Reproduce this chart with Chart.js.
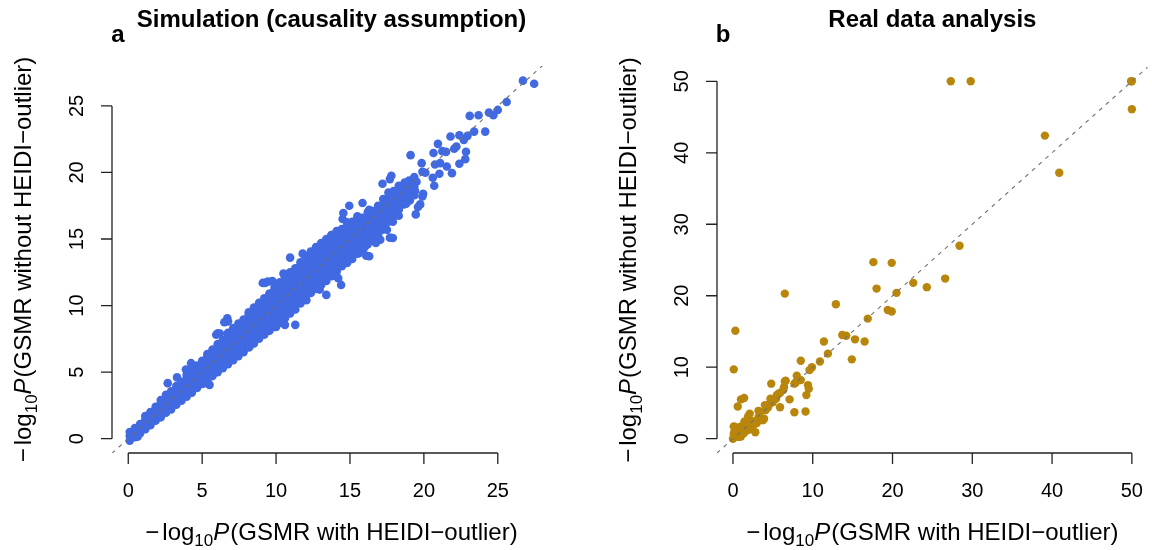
<!DOCTYPE html>
<html lang="en">
<head>
<meta charset="UTF-8">
<title>GSMR with and without HEIDI-outlier</title>
<style>
  body { margin: 0; background: #fff; }
  canvas { position: absolute; top: 0; }
  #simChart { left: 0; }
  #realChart { left: 576px; }
</style>
</head>
<body>
<canvas id="simChart" width="576" height="550"></canvas>
<canvas id="realChart" width="576" height="550"></canvas>
<script src="https://cdn.jsdelivr.net/npm/chart.js"></script>
<script>
const FONT = '"Liberation Sans", Arial, Helvetica, sans-serif';

// ---- panel a : simulation ----
const simTicks = [0, 5, 10, 15, 20, 25];
const simXRange = [-1.1, 28.6];
const simYRange = [-1.08, 28.0];

// dense band along the diagonal, read column by column: [x, [y values]]
const simCore = [
  [0.1,[-0.15,0.2,0.5]],
  [0.45,[0.1,0.45,0.8]],
  [0.8,[0.4,0.75,1.1]],
  [1.15,[0.7,1.05,1.4,1.7]],
  [1.5,[1.0,1.35,1.7,2.0]],
  [1.85,[1.35,1.7,2.05,2.4]],
  [2.2,[1.6,1.95,2.3,2.65,2.9]],
  [2.55,[1.95,2.3,2.65,3.0,3.3]],
  [2.9,[2.2,2.55,2.9,3.25,3.55]],
  [3.25,[2.55,2.9,3.25,3.6,3.95]],
  [3.6,[2.85,3.2,3.55,3.9,4.25]],
  [3.95,[3.15,3.5,3.85,4.2,4.55,4.8]],
  [4.3,[3.45,3.8,4.15,4.5,4.85,5.15]],
  [4.65,[3.8,4.15,4.5,4.85,5.2,5.5]],
  [5.0,[4.1,4.45,4.8,5.15,5.5,5.85]],
  [5.35,[4.4,4.75,5.1,5.45,5.8,6.15,6.35]],
  [5.7,[4.7,5.05,5.4,5.75,6.1,6.45,6.7]],
  [6.05,[5.0,5.35,5.7,6.05,6.4,6.75,7.1]],
  [6.4,[5.3,5.65,6.0,6.35,6.7,7.05,7.4]],
  [6.75,[5.6,5.95,6.3,6.65,7.0,7.35,7.7,7.95]],
  [7.1,[5.9,6.25,6.6,6.95,7.3,7.65,8.0,8.3]],
  [7.45,[6.2,6.55,6.9,7.25,7.6,7.95,8.3,8.65]],
  [7.8,[6.5,6.85,7.2,7.55,7.9,8.25,8.6,8.95]],
  [8.15,[6.85,7.2,7.55,7.9,8.25,8.6,8.95,9.3,9.5]],
  [8.5,[7.15,7.5,7.85,8.2,8.55,8.9,9.25,9.6,9.85]],
  [8.85,[7.5,7.85,8.2,8.55,8.9,9.25,9.6,9.95,10.2]],
  [9.2,[7.8,8.15,8.5,8.85,9.2,9.55,9.9,10.25,10.55]],
  [9.55,[8.1,8.45,8.8,9.15,9.5,9.85,10.2,10.55,10.9]],
  [9.9,[8.4,8.75,9.1,9.45,9.8,10.15,10.5,10.85,11.2,11.4]],
  [10.25,[8.7,9.05,9.4,9.75,10.1,10.45,10.8,11.15,11.5,11.75]],
  [10.6,[9.05,9.4,9.75,10.1,10.45,10.8,11.15,11.5,11.85,12.1]],
  [10.95,[9.4,9.75,10.1,10.45,10.8,11.15,11.5,11.85,12.2,12.5]],
  [11.3,[9.7,10.05,10.4,10.75,11.1,11.45,11.8,12.15,12.5,12.8]],
  [11.65,[10.15,10.5,10.85,11.2,11.55,11.9,12.25,12.6,12.95,13.25]],
  [12.0,[10.6,10.95,11.3,11.65,12.0,12.35,12.7,13.05,13.4,13.7]],
  [12.35,[10.95,11.3,11.65,12.0,12.35,12.7,13.05,13.4,13.75,14.05]],
  [12.7,[11.25,11.6,11.95,12.3,12.65,13.0,13.35,13.7,14.05,14.4]],
  [13.05,[11.55,11.9,12.25,12.6,12.95,13.3,13.65,14.0,14.35,14.7]],
  [13.4,[11.85,12.2,12.55,12.9,13.25,13.6,13.95,14.3,14.65,15.0]],
  [13.75,[12.2,12.55,12.9,13.25,13.6,13.95,14.3,14.65,15.0,15.3]],
  [14.1,[12.55,12.9,13.25,13.6,13.95,14.3,14.65,15.0,15.35,15.6]],
  [14.45,[12.95,13.3,13.65,14.0,14.35,14.7,15.05,15.4,15.75]],
  [14.8,[13.2,13.55,13.9,14.25,14.6,14.95,15.3,15.65,16.0,16.25]],
  [15.15,[13.5,13.9,14.3,14.7,15.1,15.5,15.9,16.3]],
  [15.5,[13.9,14.3,14.7,15.1,15.5,15.9,16.3,16.7]],
  [15.85,[14.2,14.6,15.0,15.4,15.8,16.2,16.6]],
  [16.2,[14.6,15.0,15.4,15.8,16.2,16.6,17.0]],
  [16.55,[15.0,15.5,15.9,16.3,16.7,17.1]],
  [16.9,[15.4,15.9,16.3,16.7,17.1,17.5]],
  [17.25,[15.9,16.3,16.8,17.2,17.6,18.0]],
  [17.6,[16.3,16.8,17.2,17.7,18.1,18.5]],
  [17.95,[16.7,17.2,17.7,18.1,18.6]],
  [18.3,[17.2,17.7,18.1,18.6,19.0]],
  [18.65,[17.6,18.1,18.6,19.0]],
  [19.0,[18.0,18.5,19.0,19.4]],
  [19.35,[18.3,18.9,19.4]]
];

// points lying off the band
const simScatter = [
  [27.46,26.67],[26.7,26.9],[25.6,25.3],[25.0,24.7],[24.4,24.5],[24.7,24.3],[23.1,24.25],[23.7,24.3],
  [24.15,23.07],[23.4,23.07],[22.95,22.75],[22.7,22.45],[22.4,22.8],[21.8,22.7],[20.95,22.15],[22.2,21.95],
  [22.05,21.78],[22.85,21.56],[22.8,21.0],[21.25,21.6],[21.5,21.55],[20.65,21.46],[19.1,21.3],[22.4,20.65],
  [21.9,19.95],[21.55,20.45],[21.1,20.7],[20.75,20.6],[19.85,20.7],[21.05,19.9],[20.6,19.6],[19.9,20.05],
  [19.35,19.65],[17.8,19.75],[20.7,19.0],[20.1,19.98],[17.2,19.15],[17.7,19.5],[18.7,19.25],[19.5,19.3],
  [19.95,18.4],[19.4,18.6],[19.9,18.2],[19.75,17.6],[19.6,17.4],[19.45,16.85],[19.05,17.9],[18.8,17.65],
  [18.4,18.45],[18.6,18.2],[18.15,17.95],[18.3,17.3],[17.5,17.7],[17.05,17.2],[15.85,17.7],[14.95,17.5],
  [16.3,17.2],[16.7,16.6],[17.9,16.3],[17.4,16.35],[17.7,16.45],[18.3,16.75],[17.5,15.7],[17.2,15.7],
  [16.9,15.4],[17.9,15.07],[17.7,15.1],[17.05,14.95],[16.2,14.8],[16.75,14.7],[16.3,13.7],[16.1,13.75],
  [15.6,13.94],[16.0,14.4],[14.55,16.95],[14.5,16.5],[13.75,15.3],[12.9,14.3],[11.8,13.9],[10.95,13.6],
  [15.4,14.7],[14.9,13.4],[9.1,11.7],[9.45,11.8],[10.5,12.4],[9.26,11.7],[9.75,11.85],[6.7,9.05],
  [6.5,8.75],[6.75,8.8],[6.2,7.9],[5.95,7.8],[6.06,7.92],[11.3,8.55],[13.4,10.8],[14.4,11.55],
  [14.2,12.06],[10.6,8.55],[10.0,8.4],[12.05,10.4],[12.95,11.2],[2.67,4.17],[4.25,5.67],[5.15,4.17],
  [5.5,4.04],[8.2,6.9],[0.63,0.15],[3.9,5.2],[3.3,4.6]
];

// ---- panel b : real data ----
const realTicks = [0, 10, 20, 30, 40, 50];
const realRange = [-2, 52];
const realPoints = [
  [27.3,50.0],[29.8,50.0],[50.0,50.0],[49.9,50.0],[50.0,46.1],[39.1,42.4],[40.9,37.2],[28.4,27.0],
  [17.6,24.7],[19.9,24.6],[18.0,21.0],[20.5,20.4],[22.6,21.8],[24.3,21.2],[26.6,22.4],[6.5,20.3],
  [0.3,15.1],[0.1,9.7],[12.9,18.8],[19.4,18.0],[19.9,17.8],[16.9,16.8],[13.7,14.5],[14.2,14.4],
  [15.3,13.9],[16.5,13.6],[11.4,13.6],[11.9,11.9],[14.9,11.1],[10.9,10.8],[8.5,10.9],[9.9,10.0],
  [9.6,9.6],[6.6,8.1],[8.0,8.8],[7.9,7.9],[8.5,8.2],[6.4,7.2],[9.4,7.5],[9.5,7.0],
  [9.2,6.1],[4.8,7.7],[7.1,5.5],[7.7,3.7],[9.1,3.8],[5.9,4.4],[4.7,5.6],[5.5,6.1],
  [5.9,6.4],[6.3,6.8],[5.0,5.1],[4.4,4.7],[4.1,4.0],[3.2,3.9],[3.9,2.8],[3.7,2.6],
  [0.6,4.5],[1.0,5.5],[1.4,5.7],[2.8,0.9],[1.9,3.1],[2.1,2.6],[2.6,2.4],[3.0,2.2],
  [1.45,2.4],[1.0,1.7],[0.1,1.7],[0.1,0.7],[0.0,0.0],[0.3,0.3],[0.55,0.5],[1.0,0.3],
  [1.4,0.8],[1.9,1.2],[0.8,1.2],[2.3,1.7],[2.1,3.5],[3.2,3.0],[6.5,8.0],[7.7,7.7],
  [5.7,6.3],[4.6,4.9],[5.4,5.6],[3.4,3.7],[3.8,2.6],[1.9,2.8],[2.4,2.35],[0.3,1.65],
  [0.7,0.25],[4.0,4.7],[4.4,4.4],[0.2,1.0],[0.5,1.3],[1.2,1.0],[1.6,1.5],[2.6,1.9],[0.9,0.6]
];

const xTitle = '(GSMR with HEIDI\u2212outlier)';
const yTitle = '(GSMR without HEIDI\u2212outlier)';

// "−log10P(...)" with subscript and italic P; cy is the baseline
function drawLogLabel(ctx, cx, cy, tail, vertical) {
  const parts = [
    ['\u2212', '24px ' + FONT, 0, 3],
    ['log', '24px ' + FONT, 0, 0],
    ['10', '17px ' + FONT, 6, 0],
    ['P', 'italic 24px ' + FONT, 0, 1],
    [tail, '24px ' + FONT, 0, 0]
  ];
  let total = 0;
  parts.forEach(p => { ctx.font = p[1]; p.w = ctx.measureText(p[0]).width; total += p.w + p[3]; });
  ctx.save();
  ctx.translate(cx, cy);
  if (vertical) ctx.rotate(-Math.PI / 2);
  ctx.fillStyle = '#000';
  ctx.textAlign = 'left';
  ctx.textBaseline = 'alphabetic';
  let x = -total / 2;
  parts.forEach(p => { ctx.font = p[1]; ctx.fillText(p[0], x, p[2]); x += p.w + p[3]; });
  ctx.restore();
}

// R-style axes: lines span first..last tick, ticks outward, rotated y labels
const rAxes = {
  id: 'rAxes',
  afterDraw(chart, args, o) {
    const { ctx, chartArea: a, scales: { x, y } } = chart;
    const first = o.ticks[0], last = o.ticks[o.ticks.length - 1];
    ctx.save();
    ctx.strokeStyle = '#222';
    ctx.lineWidth = 1.3;
    ctx.beginPath();
    ctx.moveTo(x.getPixelForValue(first), a.bottom);
    ctx.lineTo(x.getPixelForValue(last), a.bottom);
    ctx.moveTo(a.left, y.getPixelForValue(first));
    ctx.lineTo(a.left, y.getPixelForValue(last));
    o.ticks.forEach(v => {
      const px = x.getPixelForValue(v), py = y.getPixelForValue(v);
      ctx.moveTo(px, a.bottom); ctx.lineTo(px, a.bottom + 11);
      ctx.moveTo(a.left, py); ctx.lineTo(a.left - 11, py);
    });
    ctx.stroke();

    ctx.fillStyle = '#000';
    ctx.font = '20px ' + FONT;
    ctx.textAlign = 'center';
    ctx.textBaseline = 'alphabetic';
    o.ticks.forEach(v => {
      ctx.fillText(String(v), x.getPixelForValue(v), a.bottom + 44);
      ctx.save();
      ctx.translate(a.left - 29, y.getPixelForValue(v));
      ctx.rotate(-Math.PI / 2);
      ctx.fillText(String(v), 0, 0);
      ctx.restore();
    });

    const mid = (a.left + a.right) / 2;
    ctx.font = 'bold 24px ' + FONT;
    ctx.fillText(o.title, mid, 27);
    ctx.fillText(o.letter, a.left + 6, 42);
    ctx.restore();

    drawLogLabel(ctx, mid, 540, xTitle, false);
    drawLogLabel(ctx, a.left - 81, (a.top + a.bottom) / 2, yTitle, true);
  }
};

function makeChart(id, points, xr, yr, color, radius, padding, axes) {
  return new Chart(document.getElementById(id), {
    type: 'scatter',
    data: {
      datasets: [
        {
          type: 'line',
          data: [{ x: xr[0], y: xr[0] }, { x: xr[1], y: xr[1] }],
          borderColor: '#707070',
          borderWidth: 1.1,
          borderDash: [4, 5],
          pointRadius: 0,
          fill: false,
          clip: 0,
          order: 0
        },
        {
          data: points,
          backgroundColor: color,
          borderWidth: 0,
          pointRadius: radius,
          pointHoverRadius: radius,
          clip: false,
          order: 1
        }
      ]
    },
    options: {
      responsive: false,
      animation: false,
      events: [],
      layout: { padding },
      scales: {
        x: { type: 'linear', min: xr[0], max: xr[1], display: false },
        y: { type: 'linear', min: yr[0], max: yr[1], display: false }
      },
      plugins: {
        legend: { display: false },
        tooltip: { enabled: false },
        rAxes: axes
      }
    },
    plugins: [rAxes]
  });
}

const simData = [];
simCore.forEach(([x, ys]) => ys.forEach(y => simData.push({ x, y })));
simScatter.forEach(([x, y]) => simData.push({ x, y }));
const realData = realPoints.map(([x, y]) => ({ x, y }));

makeChart('simChart', simData, simXRange, simYRange, '#4169E1', 4.3,
  { left: 112, right: 25, top: 66, bottom: 97 },
  { ticks: simTicks, title: 'Simulation (causality assumption)', letter: 'a' });

makeChart('realChart', realData, realRange, realRange, '#B8860B', 4.2,
  { left: 141, right: 1, top: 67, bottom: 97 },
  { ticks: realTicks, title: 'Real data analysis', letter: 'b' });
</script>
</body>
</html>
